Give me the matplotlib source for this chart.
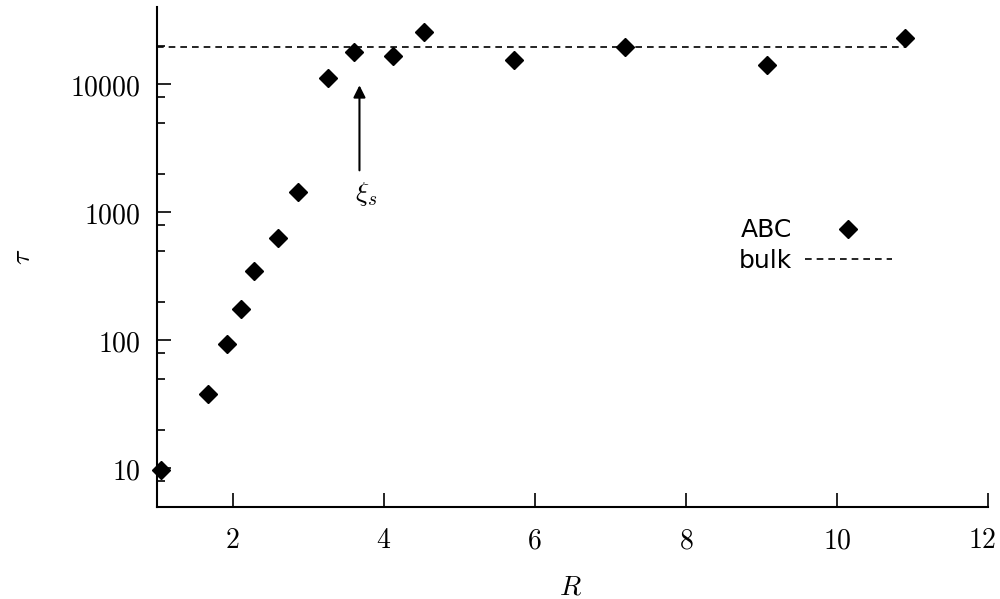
import matplotlib
matplotlib.use("Agg")
import matplotlib.pyplot as plt
import matplotlib.transforms as mtransforms
from matplotlib.ticker import LogLocator, FuncFormatter, NullFormatter

# datos
R = [1.05, 1.67, 1.92, 2.11, 2.28, 2.60, 2.86, 3.27, 3.61, 4.13, 4.54, 5.72, 7.20, 9.07, 10.90]
tau = [9.8, 38, 93, 175, 346, 627, 1430, 11100, 17800, 16500, 25500, 15400, 19500, 14100, 22900]
bulk_R = [1.0, 10.9]
bulk_tau = [19500, 19500]
xi_s = 3.68

plt.rcParams['mathtext.fontset'] = 'cm'

fig = plt.figure(figsize=(10, 5.99), dpi=100)
ax = fig.add_axes([0.157, 0.1536, 0.831, 0.8347])

ax.plot(R, tau, 'D', color='black', markersize=9.5, label='ABC', clip_on=False, zorder=3)
ax.plot(bulk_R, bulk_tau, '--', color='black', lw=1.2, dashes=(4, 3), label='bulk')

ax.annotate('', xy=(xi_s, 10300), xytext=(xi_s, 2020),
            arrowprops=dict(arrowstyle='-|>', color='black', lw=1.5, mutation_scale=18))
ax.text(3.77, 1400, r'$\xi_s$', fontsize=20, ha='center', va='center')

ax.set_yscale('log')
ax.set_xlim(1, 12)
ax.set_ylim(5, 40000)
ax.set_xticks([2, 4, 6, 8, 10, 12])
ax.yaxis.set_major_locator(LogLocator(base=10))
ax.yaxis.set_minor_locator(LogLocator(base=10, subs=[2, 5, 8]))
ax.yaxis.set_minor_formatter(NullFormatter())
fmt = FuncFormatter(lambda v, p: r'$%d$' % round(v))
ax.xaxis.set_major_formatter(fmt)
ax.yaxis.set_major_formatter(fmt)

for s in ['top', 'right']:
    ax.spines[s].set_visible(False)
for s in ['left', 'bottom']:
    ax.spines[s].set_linewidth(1.5)

ax.tick_params(which='major', direction='in', length=10, width=1.2, labelsize=20)
ax.tick_params(axis='x', which='major', pad=14)
ax.tick_params(axis='y', which='major', pad=12)
ax.tick_params(which='minor', direction='in', length=6, width=1.2)

# el "12" queda un poco a la izquierda para que no se corte
last = ax.xaxis.get_major_ticks()[-1].label1
last.set_transform(last.get_transform() + mtransforms.ScaledTranslation(-0.055, 0, fig.dpi_scale_trans))

ax.set_xlabel(r'$R$', fontsize=20)
ax.set_ylabel(r'$\tau$', fontsize=20)
ax.xaxis.set_label_coords(0.497, -0.132)
ax.yaxis.set_label_coords(-0.146, 0.5)

ax.legend(frameon=False, markerfirst=False, fontsize=18, handlelength=3.5,
          handletextpad=0.5, labelspacing=0.25, borderpad=0, borderaxespad=0,
          loc='center right', bbox_to_anchor=(0.892, 0.59), bbox_transform=fig.transFigure)

plt.savefig("out.png", dpi=100)
